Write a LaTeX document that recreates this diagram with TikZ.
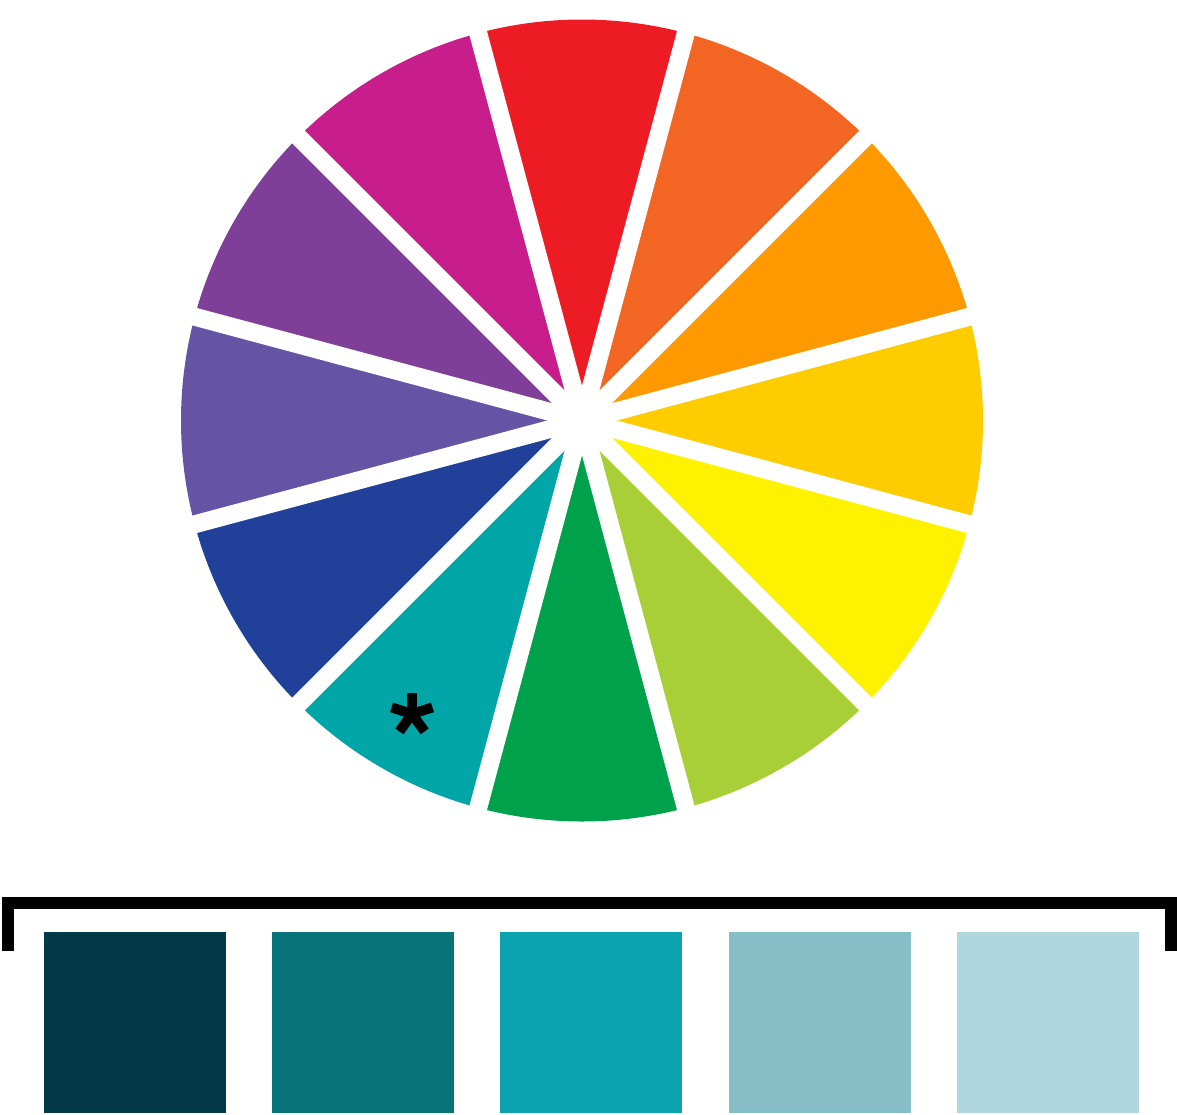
\documentclass[tikz,border=0pt]{standalone}
\usetikzlibrary{calc}
\definecolor{cRed}{HTML}{ED1C24}
\definecolor{cRedOrange}{HTML}{F26522}
\definecolor{cOrange}{HTML}{FF9900}
\definecolor{cGold}{HTML}{FFCC00}
\definecolor{cYellow}{HTML}{FFF200}
\definecolor{cYellowGreen}{HTML}{A8CF38}
\definecolor{cGreen}{HTML}{00A14B}
\definecolor{cTeal}{HTML}{00A5A8}
\definecolor{cBlue}{HTML}{21409A}
\definecolor{cBlueViolet}{HTML}{6553A4}
\definecolor{cPurple}{HTML}{7F3F98}
\definecolor{cMagenta}{HTML}{C81E8C}
\definecolor{sOne}{HTML}{033A4A}
\definecolor{sTwo}{HTML}{087479}
\definecolor{sThree}{HTML}{0DA3AE}
\definecolor{sFour}{HTML}{86BEC8}
\definecolor{sFive}{HTML}{B0D6DF}
\tikzset{
  gapline/.style={white, line width=18pt},
  bracketline/.style={black, line width=12pt, line cap=butt, line join=miter},
  asteriskarm/.style={black, line width=10pt, line cap=butt},
  swatchbox/.style={inner sep=0pt, outer sep=0pt, minimum width=182pt, minimum height=181pt, anchor=north west}
}
\begin{document}
\begin{tikzpicture}[x=1pt,y=1pt]
\useasboundingbox (0,0) rectangle (1177,-1114);
\coordinate (C) at (582,-420.5);
% wheel sectors
\foreach \a/\col in {90/cRed,60/cRedOrange,30/cOrange,0/cGold,-30/cYellow,-60/cYellowGreen,-90/cGreen,-120/cTeal,-150/cBlue,180/cBlueViolet,150/cPurple,120/cMagenta}{
  \fill[\col] (C) -- ++(\a-15:401) arc[start angle=\a-15, end angle=\a+15, radius=401] -- cycle;
}
% gap strips
\foreach \a in {15,45,75,105,135,165}{
  \draw[gapline] ($(C)+(\a:410)$) -- ($(C)+(\a+180:410)$);
}
% asterisk
\coordinate (ast) at (412,-714);
\foreach \a in {90,18,162,-54,-126}{
  \draw[asteriskarm] (ast) -- ++(\a:21.5);
}
% bracket
\coordinate (bl) at (7.5,-951);
\coordinate (br) at (1170.5,-951);
\draw[bracketline] (bl) -- (7.5,-903) -- (1170.5,-903) -- (br);
% swatches
\node[swatchbox, fill=sOne]   (s1) at (44,-932) {};
\node[swatchbox, fill=sTwo]   (s2) at (272,-932) {};
\node[swatchbox, fill=sThree] (s3) at (500,-932) {};
\node[swatchbox, fill=sFour]  (s4) at (728.5,-932) {};
\node[swatchbox, fill=sFive]  (s5) at (957,-932) {};
\end{tikzpicture}
\end{document}
